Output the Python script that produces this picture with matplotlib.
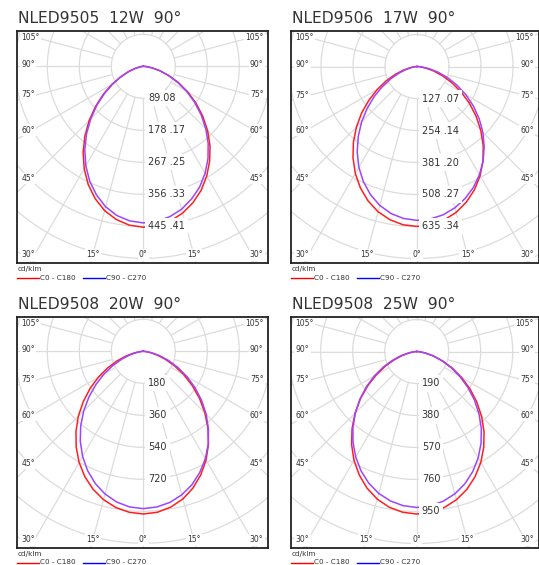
import numpy as np
import matplotlib.pyplot as plt
from matplotlib.lines import Line2D

# Polar luminous intensity curves (cd/klm), gamma from -90 to 90 in 5 deg steps
gamma = np.arange(-90, 91, 5)

titles = ["NLED9505  12W  90°", "NLED9506  17W  90°",
          "NLED9508  20W  90°", "NLED9508  25W  90°"]
ring_steps = [89.08, 127.07, 180, 190]
ring_labels = [
    ["89.08", "178 .17", "267 .25", "356 .33", "445 .41"],
    ["127 .07", "254 .14", "381 .20", "508 .27", "635 .34"],
    ["180", "360", "540", "720"],
    ["190", "380", "570", "760", "950"],
]

c0_12w = [0, 2, 10, 25, 45, 70, 101, 136, 173, 213, 253, 292, 329, 363, 392, 416, 433, 444,
          448,
          445, 437, 423, 404, 381, 353, 322, 289, 253, 216, 179, 143, 108, 76, 48, 25, 8, 0]
c90_12w = [0, 2, 10, 24, 43, 68, 98, 132, 169, 207, 246, 284, 320, 353, 381, 405, 422, 432,
           436,
           433, 425, 412, 393, 371, 344, 314, 281, 246, 210, 174, 139, 105, 74, 47, 24, 8, 0]

c0_17w = [0, 8, 27, 56, 92, 135, 182, 233, 287, 340, 393, 443, 490, 532, 568, 597, 618, 631,
          635,
          631, 619, 600, 573, 540, 501, 457, 409, 358, 306, 254, 202, 153, 108, 68, 35, 11, 0]
c90_17w = [0, 5, 20, 44, 75, 114, 158, 207, 258, 311, 363, 414, 462, 504, 541, 571, 593, 606,
           611,
           608, 598, 581, 558, 530, 496, 458, 415, 370, 322, 273, 224, 175, 129, 86, 48, 18, 0]

c0_20w = [0, 16, 51, 98, 156, 221, 292, 366, 441, 517, 589, 658, 722, 778, 826, 864, 892, 909,
          915,
          909, 890, 860, 818, 766, 706, 639, 566, 490, 413, 336, 263, 194, 133, 80, 39, 11, 0]
c90_20w = [0, 11, 38, 78, 128, 188, 254, 325, 399, 474, 548, 618, 683, 741, 791, 831, 861, 879,
           885,
           879, 863, 836, 799, 752, 698, 637, 570, 500, 427, 354, 282, 214, 151, 95, 49, 16, 0]

c0_25w = [0, 12, 41, 85, 140, 205, 277, 355, 436, 517, 597, 674, 745, 808, 863, 907, 939, 958,
          965,
          959, 941, 911, 871, 820, 761, 694, 622, 545, 465, 386, 307, 233, 164, 104, 54, 17, 0]
c90_25w = [0, 16, 50, 97, 154, 219, 290, 364, 440, 515, 589, 659, 724, 782, 832, 872, 901, 919,
           926,
           920, 903, 875, 836, 787, 730, 666, 597, 523, 447, 370, 295, 224, 158, 100, 51, 17, 0]

series = [(c0_12w, c90_12w), (c0_17w, c90_17w), (c0_20w, c90_20w), (c0_25w, c90_25w)]

W, H = 539, 565
# panel boxes (left, top, right, bottom) and polar centre, in pixels
boxes = [(17, 31, 268, 263), (291, 31, 538.5, 263),
         (17, 317, 268, 548), (291, 317, 538.5, 548)]
centers = [(143.3, 66.3), (417.0, 66.5), (143.3, 351.3), (416.7, 351.5)]
RING_PX = 32

RED = "#ff1f1f"
PURPLE = "#9b45ff"
GRID = "#dcdcdc"
TXT = "#333333"

fig = plt.figure(figsize=(W / 100, H / 100), dpi=100)
fig.patch.set_facecolor("white")

g = np.radians(gamma)
phi = np.linspace(0, 2 * np.pi, 400)
lab_box = dict(facecolor="white", edgecolor="none", pad=1.0)

for i in range(4):
    l, t, r, b = boxes[i]
    cx, cy = centers[i]
    s = ring_steps[i]
    k = s / RING_PX
    ax = fig.add_axes([l / W, 1 - b / H, (r - l) / W, (b - t) / H])
    ax.set_xlim((l - cx) * k, (r - cx) * k)
    ax.set_ylim(-(b - cy) * k, (cy - t) * k)
    ax.set_xticks([])
    ax.set_yticks([])
    for sp in ax.spines.values():
        sp.set_linewidth(1.3)
        sp.set_color("#222222")

    # grid
    for n in range(1, 10):
        ax.plot(n * s * np.cos(phi), n * s * np.sin(phi), color=GRID, lw=0.9, zorder=1)
    for a in range(0, 360, 15):
        ar = np.radians(a)
        ax.plot([s * np.sin(ar), 12 * s * np.sin(ar)], [-s * np.cos(ar), -12 * s * np.cos(ar)],
                color=GRID, lw=0.9, zorder=1)

    c0, c90 = series[i]
    c0 = np.array(c0)
    c90 = np.array(c90)
    ax.plot(c0 * np.sin(g), -c0 * np.cos(g), color=RED, lw=1.1, zorder=3)
    ax.plot(c90 * np.sin(g), -c90 * np.cos(g), color=PURPLE, lw=1.1, zorder=4)

    # ring labels
    for n, lab in enumerate(ring_labels[i], start=1):
        ax.text(5.0 * k, -n * s, lab, ha="left", va="center", fontsize=7, color=TXT,
                zorder=6, bbox=dict(facecolor="white", edgecolor="none", pad=2.2))

    # angle labels on the sides
    dxa = cx - (l + 12)
    for a in [45, 60, 75, 90, 105]:
        ydown = dxa / np.tan(np.radians(a)) - 2
        ydown = max(ydown, (t - cy) + 7)
        ax.text((l + 4.5 - cx) * k, -ydown * k, f"{a}°", ha="left", va="center",
                fontsize=5.5, color=TXT, zorder=6, bbox=lab_box, clip_on=True)
        ax.text((r - 4.5 - cx) * k, -ydown * k, f"{a}°", ha="right", va="center",
                fontsize=5.5, color=TXT, zorder=6, bbox=lab_box, clip_on=True)
    yb = b - cy - 8
    ax.text(0, -yb * k, "0°", ha="center", va="center", fontsize=5.5, color=TXT,
            zorder=6, bbox=lab_box)
    for sgn in (-1, 1):
        ax.text(sgn * yb * np.tan(np.radians(15)) * k, -yb * k, "15°", ha="center",
                va="center", fontsize=5.5, color=TXT, zorder=6, bbox=lab_box)
    ax.text((l + 4.5 - cx) * k, -yb * k, "30°", ha="left", va="center", fontsize=5.5,
            color=TXT, zorder=6, bbox=lab_box)
    ax.text((r - 4.5 - cx) * k, -yb * k, "30°", ha="right", va="center", fontsize=5.5,
            color=TXT, zorder=6, bbox=lab_box)

    # title
    fig.text((l + 1) / W, 1 - (t - 8) / H, titles[i], ha="left", va="baseline",
             fontsize=11.2, color=TXT)

    # legend
    fig.text((l + 0.5) / W, 1 - (b + 6) / H, "cd/klm", ha="left", va="center",
             fontsize=5.2, color=TXT)
    ly = 1 - (b + 14.5) / H
    fig.add_artist(Line2D([l / W, (l + 22) / W], [ly, ly], color="#ff0000", lw=1))
    fig.text((l + 23) / W, ly, "C0 - C180", ha="left", va="center", fontsize=5.2, color=TXT)
    fig.add_artist(Line2D([(l + 66) / W, (l + 88) / W], [ly, ly], color="#0000ff", lw=1))
    fig.text((l + 89) / W, ly, "C90 - C270", ha="left", va="center", fontsize=5.2, color=TXT)

fig.savefig("out.png", dpi=100, facecolor="white")
